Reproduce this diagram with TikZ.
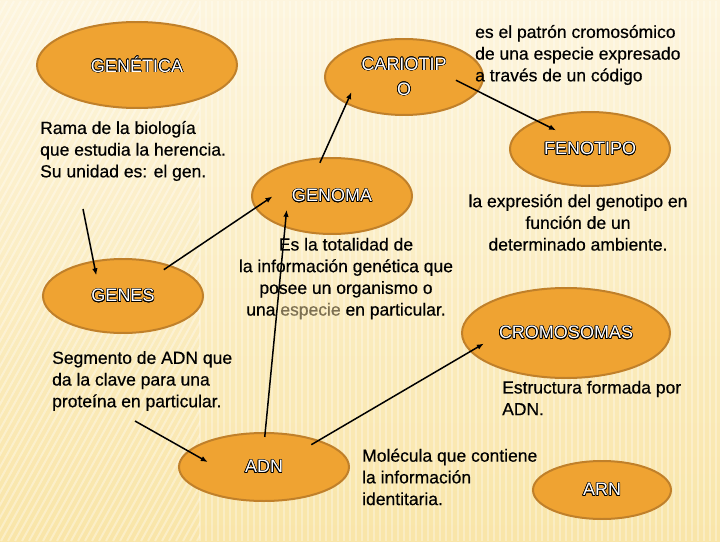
\documentclass[tikz,border=0pt]{standalone}
\usepackage{fontspec}
\setmainfont{Liberation Sans}
\usepackage{contour}
\contourlength{0.55pt}
\usetikzlibrary{shapes.geometric,arrows.meta}

\definecolor{naranja}{RGB}{239,163,50}
\definecolor{borde}{RGB}{192,128,42}
\definecolor{crema}{RGB}{253,245,222}
\definecolor{cremaosc}{RGB}{249,229,168}
\definecolor{especie}{RGB}{125,112,82}

\begin{document}
\begin{tikzpicture}[x=1pt, y=1pt, >={Latex[length=7pt,width=5.5pt]},
    concepto/.style={ellipse, draw=borde, line width=2pt, fill=naranja,
      inner sep=0pt, text=white, font=\fontsize{18}{25}\selectfont},
    nota/.style={inner sep=0pt, font=\fontsize{17.5}{21.7}\selectfont\addfontfeature{FakeBold=0.5}},
    flecha/.style={->, line width=1.5pt}]
  % fondo
  \fill[top color=crema, bottom color=cremaosc] (0,0) rectangle (720,540);
  \foreach \i in {200,206,...,720}
    \draw[white, opacity=0.3, line width=2pt] (\i,0) -- (\i,540);
  \begin{scope}
    \clip (0,0) rectangle (200,540);
    \foreach \i in {-300,-293,...,200}
      \draw[white, opacity=0.35, line width=2pt] (\i,0) -- (\i+300,540);
  \end{scope}
  % conceptos
  \node[concepto, minimum width=200pt, minimum height=86pt] (genetica) at (137,476) {\contour{black}{GENÉTICA}};%
  \node[concepto, minimum width=158pt, minimum height=76pt, align=center] (cariotipo) at (404,464) {\contour{black}{CARIOTIP}\\\contour{black}{O}};%
  \node[concepto, minimum width=160pt, minimum height=74pt] (fenotipo) at (590,392) {\contour{black}{FENOTIPO}};%
  \node[concepto, minimum width=160pt, minimum height=76pt] (genoma) at (332,345) {\contour{black}{GENOMA}};%
  \node[concepto, minimum width=160pt, minimum height=74pt] (genes) at (123,245) {\contour{black}{GENES}};%
  \node[concepto, minimum width=208pt, minimum height=90pt] (cromosomas) at (566,208) {\contour{black}{CROMOSOMAS}};%
  \node[concepto, minimum width=170pt, minimum height=68pt] (adn) at (264,74) {\contour{black}{ADN}};%
  \node[concepto, minimum width=138pt, minimum height=58pt] (arn) at (602,51) {\contour{black}{ARN}};%
  % definiciones
  \node[nota, anchor=west, align=left] (rama) at (40,390) {Rama de la biología\\que estudia la herencia.\\Su unidad es: el gen.};%
  \node[nota, anchor=west, align=left] (patron) at (475,486) {es el patrón cromosómico\\de una especie expresado\\a través de un código};%
  \node[nota, align=center] (expresion) at (578,318.5) {la expresión del genotipo en\\función de un\\determinado ambiente.};%
  \node[nota, align=center] (totalidad) at (346,262.5) {Es la totalidad de\\la información genética que\\posee un organismo o\\una {\color{especie}especie} en particular.};%
  \node[nota, anchor=west, align=left] (segmento) at (52,160) {Segmento de ADN que\\da la clave para una\\proteína en particular.};%
  \node[nota, anchor=west, align=left] (estructura) at (502,143) {Estructura formada por\\ADN.};%
  \node[nota, anchor=west, align=left] (molecula) at (362,64) {Molécula que contiene\\la información\\identitaria.};%
  \coordinate (rama-punta) at (83,332);
  \coordinate (segmento-punta) at (135,120);
  % flechas
  \path[flecha] (genoma.104) edge[shorten <=-6pt, shorten >=-13pt] (cariotipo.205);%
  \path[flecha] (cariotipo.349) edge[shorten <=-25pt, shorten >=-22pt] (fenotipo.152);%
  \path[flecha] (rama-punta) edge[shorten >=-15pt] (genes.130);%
  \path[flecha] (genes.33) edge[shorten <=-8pt, shorten >=-21pt] (genoma.189);%
  \path[flecha] (adn.88) edge[shorten <=-5pt, shorten >=-18pt] (genoma.214)
    (adn.26) edge[shorten <=-9pt, shorten >=-16pt] (cromosomas.191);%
  \path[flecha] (segmento-punta) edge[shorten >=-23pt] (adn.168);%
\end{tikzpicture}
\end{document}
